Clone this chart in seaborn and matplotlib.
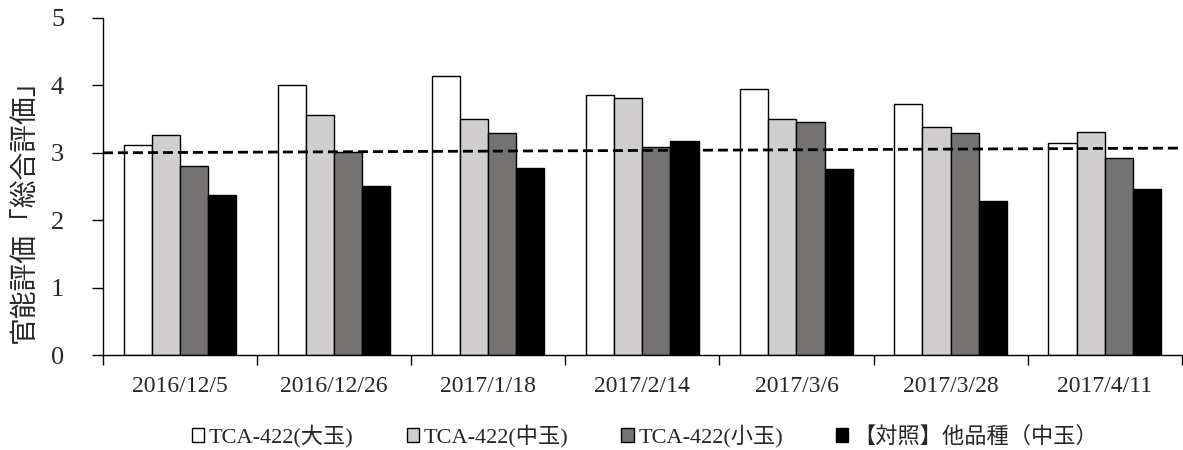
import numpy as np
import pandas as pd
import matplotlib
matplotlib.use("Agg")
import matplotlib.pyplot as plt
import seaborn as sns

dates = ["2016/12/5", "2016/12/26", "2017/1/18", "2017/2/14", "2017/3/6", "2017/3/28", "2017/4/11"]
series_names = ["TCA-422(大玉)", "TCA-422(中玉)", "TCA-422(小玉)", "【対照】他品種（中玉）"]
large = [3.12, 4.00, 4.14, 3.86, 3.95, 3.72, 3.15]
medium = [3.26, 3.56, 3.50, 3.82, 3.50, 3.38, 3.31]
small = [2.81, 3.01, 3.29, 3.09, 3.45, 3.29, 2.92]
control = [2.37, 2.51, 2.78, 3.18, 2.76, 2.28, 2.47]
ref_line = [3.00, 3.07]
colors = ["#FFFFFF", "#D0CECE", "#767171", "#000000"]
y_label = "官能評価「総合評価」"

sns.set_theme(style="white")
plt.rcParams['font.family'] = ['Liberation Serif', 'Noto Sans CJK JP']

rows = []
for name, vals in zip(series_names, [large, medium, small, control]):
    for d, v in zip(dates, vals):
        rows.append({"date": d, "series": name, "value": v})
df = pd.DataFrame(rows)

fig = plt.figure(figsize=(11.83, 4.5), dpi=100)
ax = fig.add_axes([0.087, 0.211, 0.912, 0.749])

sns.barplot(data=df, x="date", y="value", hue="series", order=dates,
            hue_order=series_names, palette=colors, width=0.73,
            edgecolor="black", linewidth=1.0, ax=ax, legend=True)

n = len(dates)
ax.plot([-0.5, n - 0.5], ref_line, color="black", linestyle=(0, (3.6, 1.8)), lw=2.0, zorder=5)

ax.set_xlim(-0.5, n - 0.5)
ax.set_ylim(0, 5)
ax.set_yticks([0, 1, 2, 3, 4, 5])
ax.tick_params(axis="y", labelsize=19, length=8, width=1, color="black", direction="out", left=True, pad=20)
ax.set_xticks(np.arange(-0.5, n, 1.0))
ax.set_xticklabels([])
ax.set_xticks(np.arange(n), minor=True)
ax.set_xticklabels(dates, minor=True)
ax.tick_params(axis="x", which="major", length=7, width=1, color="black", direction="out", bottom=True)
ax.tick_params(axis="x", which="minor", length=0, labelsize=17, pad=15)
ax.set_xlabel("")
ax.set_ylabel(y_label, fontsize=20)
ax.yaxis.set_label_coords(-0.060, 0.446)
for s in ["top", "right"]:
    ax.spines[s].set_visible(False)
for s in ["left", "bottom"]:
    ax.spines[s].set_color("black")
    ax.spines[s].set_linewidth(1.0)
ax.grid(False)

handles, labels = ax.get_legend_handles_labels()
ax.get_legend().remove()
fig.legend(handles, labels, loc="center", bbox_to_anchor=(0.545, 0.03), ncol=4,
           frameon=False, fontsize=16, handlelength=0.55, handleheight=0.55,
           handletextpad=0.2, columnspacing=2.4)

fig.savefig("out.png", dpi=100)
